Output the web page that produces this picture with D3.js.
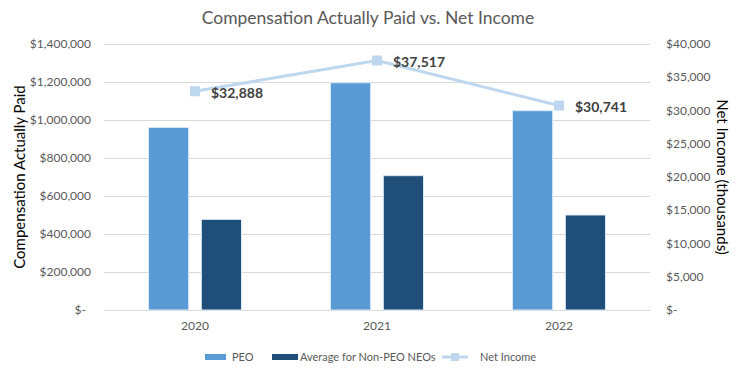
<!DOCTYPE html>
<html><head><meta charset="utf-8">
<script src="https://cdn.jsdelivr.net/npm/d3@7"></script>
<style>body{margin:0;background:#fff}svg{display:block;font-family:Lato,"Open Sans",sans-serif}</style>
</head><body><svg id="c" width="738" height="378"></svg>
<script>
const years = ["2020","2021","2022"];
const peo = [961000, 1196000, 1049000];
const nonPeo = [477000, 707000, 500000];
const netIncome = [32888, 37517, 30741];
const leftTicks = [0,200000,400000,600000,800000,1000000,1200000,1400000];
const rightTicks = [0,5000,10000,15000,20000,25000,30000,35000,40000];
const seriesNames = ["PEO","Average for Non-PEO NEOs","Net Income"];
const colors = {peo:"#5B9BD5", non:"#1F4E79", line:"#BDD7EE"};

const svg = d3.select("#c");
const L = 104, R = 650, T = 44, B = 310;
const x = d3.scaleBand().domain(years).range([L,R]);
const x1 = d3.scaleBand().domain(["peo","non"]).range([0,93]).paddingInner(0.24);
const yL = d3.scaleLinear().domain([0,1400000]).range([B,T]);
const yR = d3.scaleLinear().domain([0,40000]).range([B,T]);
const fmt = d3.format(",");
const money = v => v===0 ? "$-" : "$" + fmt(v);

// gridlines
svg.append("g").selectAll("line").data(leftTicks).join("line")
  .attr("x1",L).attr("x2",R).attr("y1",d=>yL(d)+0.5).attr("y2",d=>yL(d)+0.5)
  .attr("stroke","#d9d9d9").attr("stroke-width",1);

// left axis labels
svg.append("g").selectAll("text").data(leftTicks).join("text")
  .attr("x",d=>d===0?86:91).attr("y",d=>yL(d)).attr("dy","0.35em")
  .attr("text-anchor","end").attr("font-size",12).attr("fill","#595959").text(money);
// right axis labels
svg.append("g").selectAll("text").data(rightTicks).join("text")
  .attr("x",666).attr("y",d=>yR(d)).attr("dy","0.35em")
  .attr("text-anchor","start").attr("font-size",12).attr("fill","#595959").text(money);

// bars
const groups = svg.append("g").selectAll("g").data(years).join("g")
  .attr("transform",d=>`translate(${x(d)+x.bandwidth()/2-46.5},0)`);
groups.append("rect").attr("x",x1("peo")).attr("width",x1.bandwidth())
  .attr("y",(d,i)=>yL(peo[i])).attr("height",(d,i)=>B-yL(peo[i]))
  .attr("fill",colors.peo).attr("stroke","#dbe8f5").attr("stroke-width",1);
groups.append("rect").attr("x",x1("non")).attr("width",x1.bandwidth())
  .attr("y",(d,i)=>yL(nonPeo[i])).attr("height",(d,i)=>B-yL(nonPeo[i]))
  .attr("fill",colors.non).attr("stroke","#dbe8f5").attr("stroke-width",1);

// x labels
svg.append("g").selectAll("text").data(years).join("text")
  .attr("x",d=>x(d)+x.bandwidth()/2).attr("y",326).attr("dy","0.35em")
  .attr("text-anchor","middle").attr("font-size",12).attr("fill","#595959").text(d=>d);

// line
const cx = d => x(d)+x.bandwidth()/2;
svg.append("path").datum(netIncome)
  .attr("d",d3.line().x((d,i)=>cx(years[i])).y(d=>yR(d)))
  .attr("fill","none").attr("stroke",colors.line).attr("stroke-width",3);
svg.append("g").selectAll("rect").data(netIncome).join("rect")
  .attr("x",(d,i)=>cx(years[i])-5).attr("y",d=>yR(d)-5).attr("width",10).attr("height",10)
  .attr("fill",colors.line);
svg.append("g").selectAll("text").data(netIncome).join("text")
  .attr("x",(d,i)=>cx(years[i])+16).attr("y",d=>yR(d)+2).attr("dy","0.35em")
  .attr("font-size",14).attr("font-weight","bold").attr("fill","#404040").text(d=>"$"+fmt(d));

// title
svg.append("text").attr("x",368).attr("y",18).attr("dy","0.35em").attr("text-anchor","middle")
  .attr("font-size",17.5).attr("fill","#595959").text("Compensation Actually Paid vs. Net Income");
// axis titles
svg.append("text").attr("transform","translate(20,177) rotate(-90)").attr("dy","0.35em")
  .attr("text-anchor","middle").attr("font-size",15).attr("fill","#000").text("Compensation Actually Paid");
svg.append("text").attr("transform","translate(722,177) rotate(90)").attr("dy","0.35em")
  .attr("text-anchor","middle").attr("font-size",15).attr("fill","#000").text("Net Income (thousands)");

// legend
const lg = svg.append("g");
const ly = 357;
lg.append("rect").attr("x",205).attr("y",ly-3).attr("width",21).attr("height",6).attr("fill",colors.peo);
lg.append("text").attr("x",232).attr("y",ly).attr("dy","0.35em").attr("font-size",11).attr("fill","#595959").text(seriesNames[0]);
lg.append("rect").attr("x",272).attr("y",ly-3).attr("width",26).attr("height",6).attr("fill",colors.non);
lg.append("text").attr("x",300).attr("y",ly).attr("dy","0.35em").attr("font-size",11).attr("fill","#595959").text(seriesNames[1]);
lg.append("line").attr("x1",442).attr("x2",468).attr("y1",ly).attr("y2",ly).attr("stroke",colors.line).attr("stroke-width",3);
lg.append("rect").attr("x",451).attr("y",ly-4).attr("width",8).attr("height",8).attr("fill",colors.line);
lg.append("text").attr("x",480).attr("y",ly).attr("dy","0.35em").attr("font-size",11).attr("fill","#595959").text(seriesNames[2]);
</script></body></html>
